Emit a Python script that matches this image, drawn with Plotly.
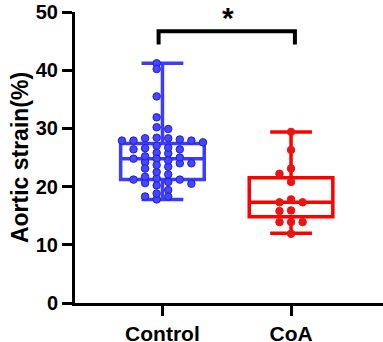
import plotly.graph_objects as go

categories = ["Control", "CoA"]

control_values = [28.4, 21.2,
                  28.3, 27.0, 25.8, 24.2, 21.4,
                  27.9, 26.4, 24.8, 23.4, 22.1, 20.6, 19.4, 17.8,
                  41.2, 35.5, 31.9, 29.9, 27.9, 26.6, 25.2, 24.0, 23.1, 20.5, 18.8,
                  40.2, 30.2, 27.6, 26.4, 24.0, 22.5, 20.8, 18.3,
                  28.3, 25.7, 24.8, 23.7, 21.7, 20.2, 18.3,
                  27.9, 26.7, 24.5,
                  28.1, 25.0, 21.2]
coa_values = [29.4, 26.3, 23.1, 22.2, 20.8, 17.3, 17.3, 17.8, 15.9, 15.8,
              13.9, 13.9, 13.9, 11.9]

# box statistics
box_q1 = [21.2, 14.8]
box_median = [24.8, 17.3]
box_q3 = [27.4, 21.5]
box_low = [17.8, 12.0]
box_high = [41.2, 29.4]

colors = ["rgb(60,60,255)", "rgb(255,0,0)"]
point_fill = ["rgb(70,70,255)", "rgb(235,20,20)"]
point_line = ["rgb(30,30,220)", "rgb(235,20,20)"]

y_ticks = [0, 10, 20, 30, 40, 50]


def swarm(values, center, dx, collide, half):
    order = sorted(range(len(values)), key=lambda i: -values[i])
    placed = []
    xs = [0.0] * len(values)
    if half:
        slots = []
        for k in range(10):
            slots += [-(k + 0.5), k + 0.5]
    else:
        slots = [0]
        for k in range(1, 10):
            slots += [-k, k]
    for i in order:
        v = values[i]
        for s in slots:
            if all(not (ps == s and abs(pv - v) < collide) for ps, pv in placed):
                placed.append((s, v))
                xs[i] = center + s * dx
                break
    return xs


fig = go.Figure()
for k in range(2):
    fig.add_trace(go.Box(
        x=[k], q1=[box_q1[k]], median=[box_median[k]], q3=[box_q3[k]],
        lowerfence=[box_low[k]], upperfence=[box_high[k]],
        width=0.65, whiskerwidth=0.5, boxpoints=False,
        line=dict(color=colors[k], width=3.5),
        fillcolor="rgba(255,255,255,0)", showlegend=False, hoverinfo="skip"))

all_vals = [control_values, coa_values]
for k in range(2):
    xs = swarm(all_vals[k], k, 0.09, 1.0, half=(k == 0))
    fig.add_trace(go.Scatter(
        x=xs, y=all_vals[k], mode="markers", showlegend=False,
        marker=dict(size=7.5, color=point_fill[k],
                    line=dict(color=point_line[k], width=1))))

font = dict(family="Liberation Sans, Arial", color="black", weight="bold")

# significance bracket
fig.add_shape(type="path", path="M -0.03 44.4 L -0.03 46.7 L 1.03 46.7 L 1.03 44.4",
              xref="x", yref="y", line=dict(color="black", width=4))
fig.add_annotation(x=0.51, y=1, xref="x", yref="paper", text="*", showarrow=False,
                   yanchor="top", yshift=13, font=dict(size=30, **font))

fig.update_layout(
    width=383, height=342,
    margin=dict(l=75, r=0, t=12, b=39),
    plot_bgcolor="white", paper_bgcolor="white",
    font=font,
    xaxis=dict(range=[-0.68, 1.715], tickvals=[0, 1], ticktext=categories,
               showline=True, linewidth=3, linecolor="black",
               ticks="outside", ticklen=10, tickwidth=3, tickcolor="black",
               showgrid=False, zeroline=False, automargin=False,
               tickfont=dict(size=21, **font)),
    yaxis=dict(range=[0, 50], tickvals=y_ticks,
               showline=True, linewidth=3, linecolor="black",
               ticks="outside", ticklen=10, tickwidth=3, tickcolor="black",
               showgrid=False, zeroline=False, automargin=False,
               ticklabeloverflow="allow",
               tickfont=dict(size=20, **font),
               title=dict(text="Aortic strain(%)", standoff=1,
                          font=dict(size=23, **font))),
)

fig.write_html("out.html", config={"displayModeBar": False},
               post_script="document.body.style.margin='0';")
